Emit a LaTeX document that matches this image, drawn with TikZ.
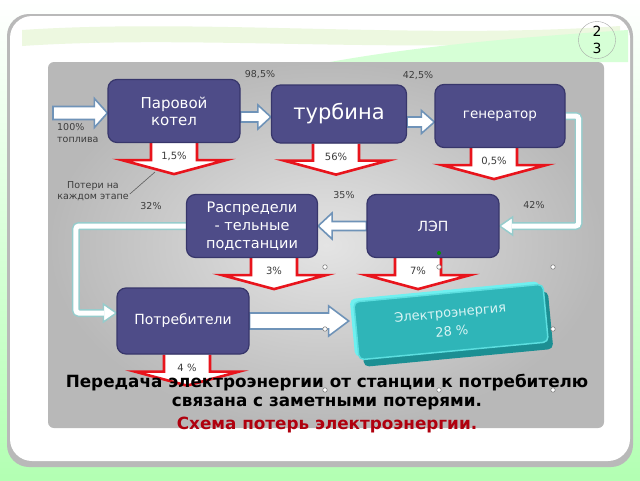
\documentclass[tikz,border=0pt]{standalone}
\usepackage{fontspec}
\setmainfont{DejaVu Sans}
\usepackage{xcolor}
\usepackage{tikz}
\usetikzlibrary{calc,backgrounds}

\definecolor{stageblue}{HTML}{4E4C88}
\definecolor{stageedge}{HTML}{37366B}
\definecolor{flowedge}{HTML}{6F93B8}
\definecolor{routeedge}{HTML}{96CCCC}
\definecolor{lossred}{HTML}{E8141C}
\definecolor{labelgray}{HTML}{3C3C3C}
\definecolor{elteal}{HTML}{2FB5B8}
\definecolor{eldark}{HTML}{1C8F93}
\definecolor{ellight}{HTML}{6FF0F0}
\definecolor{eltext}{HTML}{D8F4F4}
\definecolor{titlered}{HTML}{B0000E}
\definecolor{panelin}{HTML}{E4E4E4}
\definecolor{panelout}{HTML}{B8B8B8}

% block arrow between two points: from #1 to #2, shaft half #3, head half #4, head length #5
\newcommand{\flowarrow}[5]{%
  \draw[flow] let \p1=(#1), \p2=(#2), \p3=($(\x2,\y1)!#5!(\x1,\y1)$) in
    (\x1,\y1+#3) -- (\x3,\y1+#3) -- (\x3,\y1+#4)
    -- (\x2,\y1) -- (\x3,\y1-#4) -- (\x3,\y1-#3)
    -- (\x1,\y1-#3) -- cycle;}
% loss arrow under a stage
\newcommand{\lossarrow}[4]{%
  \draw[loss] ([xshift=#2]#1) ++(-23,0) -- ++(0,17) -- ++(-29,0) -- ++(52,14)
    -- ++(52,-14) -- ++(-29,0) -- ++(0,-17);
  \node[losslbl] (#3) at ([shift={(#2,13)}]#1) {#4};}

\begin{document}
\begin{tikzpicture}[x=1pt, y=-1pt,
  stage/.style={rectangle, rounded corners=9pt, fill=stageblue, draw=stageedge,
    line width=1.2pt, text=white, align=center, inner sep=0pt,
    minimum width=132pt, minimum height=63pt, font=\fontsize{15}{17}\selectfont},
  flow/.style={fill=white, draw=flowedge, line width=1.6pt, line join=miter},
  route/.style={draw=routeedge, line width=1.5pt, double=white, double distance=5pt, rounded corners=3pt},
  routehead/.style={fill=white, draw=routeedge, line width=1.5pt, line join=miter},
  loss/.style={fill=white, draw=lossred, line width=2.6pt, line join=miter},
  losslbl/.style={font=\fontsize{10}{12}\selectfont, text=labelgray, inner sep=0pt},
  pct/.style={font=\fontsize{9.5}{11.5}\selectfont, text=labelgray, inner sep=1pt},
  elpart/.style={rectangle, rounded corners=5pt, minimum width=190pt, minimum height=58pt,
    inner sep=0pt, rotate=5.4},
  elface/.style={fill=elteal, draw=ellight!70!elteal, line width=1.5pt, text=eltext,
    align=center, font=\fontsize{13}{19}\selectfont},
  msg/.style={font=\bfseries\fontsize{16.8}{19}\selectfont, inner sep=0pt},
  handle/.style={circle, draw=gray, fill=white, line width=0.6pt, minimum size=4.5pt, inner sep=0pt}]
  \useasboundingbox (0,0) rectangle (640,480);

  % stages
  \node[stage] (boiler) at (174,111) {Паровой\\котел};
  \node[stage, minimum width=135pt, minimum height=58pt, font=\fontsize{21}{24}\selectfont] (turbine) at (339,114) {турбина};
  \node[stage, minimum width=130pt, font=\fontsize{13.5}{16}\selectfont] (gen) at (500,116) {генератор};
  \node[stage, minimum width=131pt, font=\fontsize{14.5}{18}\selectfont] (dist) at (252,226) {Распредели\\- тельные\\подстанции};
  \node[stage, font=\fontsize{14}{16}\selectfont] (lep) at (433,226) {ЛЭП};
  \node[stage, minimum height=66pt, font=\fontsize{14}{16}\selectfont] (users) at (183,321) {Потребители};

  % electric energy block
  \node[elpart, fill=eldark] (elside) at (456,329) {};
  \node[elpart, fill=ellight] (ellit) at (447,319) {};
  \node[elpart, elface] (el) at (451,322) {Электроэнергия\\28 \%};

  % percentages
  \node[pct] (p985) at (260,75) {98,5\%};
  \node[pct] (p425) at (418,76) {42,5\%};
  \node[pct] (p35) at (344,195) {35\%};
  \node[pct] (p42) at (534,205) {42\%};
  \node[pct] (p32) at (151,206) {32\%};
  \node[pct, align=left, anchor=west] (fuel) at (56,133) {100\%\\топлива};
  \node[pct, align=center] (note) at (93,191) {Потери на\\каждом этапе};

  % caption
  \node[msg] (msg1) at (327,383) {Передача электроэнергии от станции к потребителю};
  \node[msg] (msg2) at (327,404) {связана с заметными потерями.};
  \node[msg, text=titlered] (msg3) at (327,425) {Схема потерь электроэнергии.};

  % slide number
  \node[circle, draw=gray!70, minimum size=37pt, inner sep=0pt, align=center,
    font=\fontsize{14}{17}\selectfont] (pgno) at (597,40) {2\\3};

  % selection handles
  \foreach \hx/\hy [count=\i] in {325/267, 439/267, 553/267, 325/329, 553/329, 325/390, 439/390, 553/390}
    \node[handle] (h\i) at (\hx,\hy) {};
  \node[circle, fill=green!60!black, minimum size=4pt, inner sep=0pt] (rot) at (439,253) {};

  \begin{scope}[on background layer]
    % slide background
    \shade[top color=white, bottom color=green!30!white] (0,0) rectangle (640,480);
    \fill[gray!55, rounded corners=22pt] (7,14) rectangle (633,467);
    \fill[white, rounded corners=22pt] (10,16) rectangle (630,461);
    \fill[yellow!40!green!12!white] (22,30) .. controls (200,18) and (420,40) .. (620,26)
      -- (620,38) .. controls (420,56) and (200,34) .. (22,46) -- cycle;
    \fill[green!16!white] (330,62) .. controls (430,44) and (540,36) .. (628,30) -- (628,62) -- cycle;
    \shade[rounded corners=6pt, inner color=panelin, outer color=panelout] (48,62) rectangle (604,428);

    % energy flow
    \coordinate (fuelin) at (53,113);
    \flowarrow{fuelin}{boiler.west}{6.5pt}{14.5pt}{13pt}
    \flowarrow{[yshift=-6pt]boiler.east}{turbine.west}{5pt}{12pt}{13pt}
    \flowarrow{[yshift=-8pt]turbine.east}{gen.west}{5pt}{11.5pt}{13pt}
    \flowarrow{lep.west}{dist.east}{4.5pt}{13pt}{14pt}
    \flowarrow{users.east}{[xshift=-7pt]el.west}{8pt}{15pt}{20pt}

    \draw[routehead] (lep.east) -- ++(13,-9) -- ++(0,18) -- cycle;
    \draw[route] (gen.east) -- ++(13,0) |- ([xshift=12.5pt]lep.east);
    \draw[routehead] ([yshift=8pt]users.west) -- ++(-13,-9) -- ++(0,18) -- cycle;
    \draw[route] (dist.west) -- ++(-110,0) |- ([xshift=-12.5pt,yshift=8pt]users.west);

    % losses
    \lossarrow{boiler.south}{0}{l1}{1,5\%}
    \lossarrow{turbine.south}{-3}{l2}{56\%}
    \lossarrow{gen.south}{-6}{l3}{0,5\%}
    \lossarrow{dist.south}{22}{l4}{3\%}
    \lossarrow{lep.south}{-15}{l5}{7\%}
    \lossarrow{users.south}{4}{l6}{4 \%}
  \end{scope}

  \coordinate (lossptr) at (155,172);
  \draw[gray!70!black, line width=0.6pt] ([yshift=-3pt]note.east) -- (lossptr);
\end{tikzpicture}
\end{document}
